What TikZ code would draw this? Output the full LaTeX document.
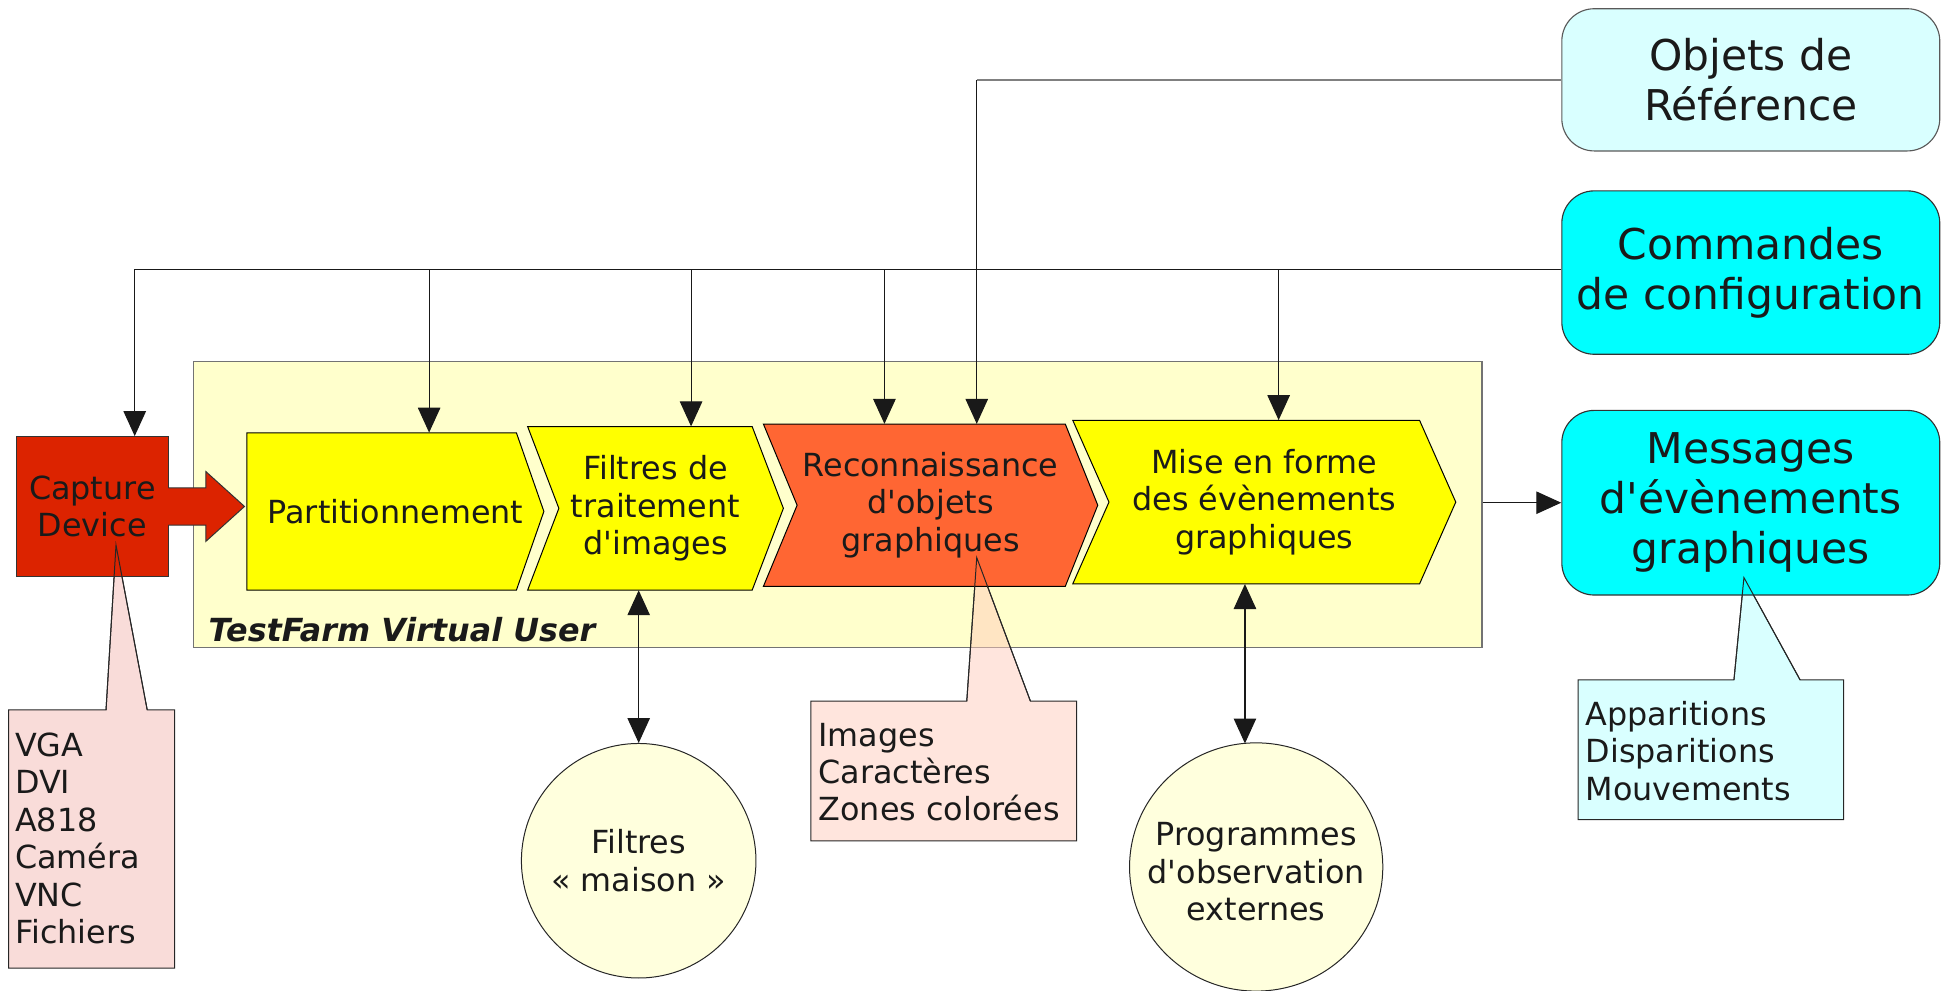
\documentclass[tikz,border=0pt]{standalone}
\usepackage{fontspec}
\setmainfont{DejaVu Sans}[Ligatures=TeXOff]
\usetikzlibrary{arrows.meta,shapes.geometric}
\definecolor{txtc}{HTML}{1A1A1A}
\definecolor{capred}{HTML}{DC2300}
\definecolor{chevY}{HTML}{FFFF00}
\definecolor{recoOr}{HTML}{FF6633}
\definecolor{tfbg}{HTML}{FFFFCC}
\definecolor{circc}{HTML}{FFFFDD}
\definecolor{lcyan}{HTML}{D9FFFF}
\definecolor{fcyan}{HTML}{00FFFF}
\definecolor{pinkc}{HTML}{F9DCD9}
\definecolor{peachc}{HTML}{FFCCBB}
\begin{document}
\begin{tikzpicture}[x=1pt,y=-1pt,
  txt/.style={text=txtc, font=\fontsize{25.5}{30}\selectfont, align=center, inner sep=0pt},
  bigtxt/.style={text=txtc, font=\fontsize{34}{40}\selectfont, align=center, inner sep=0pt},
  rbox/.style={draw=black!80, rounded corners=26pt, minimum width=303pt, line width=0.9pt},
  shp/.style={draw=black, line width=0.8pt},
  ln/.style={line width=0.9pt, draw=black!90},
  conn/.style={ln, -{Triangle[length=20pt,width=18pt]}},
  dconn/.style={ln, {Triangle[length=20pt,width=18pt]}-{Triangle[length=20pt,width=18pt]}},
  note/.style={text=txtc, font=\fontsize{25.5}{30}\selectfont, align=left, inner sep=0pt, anchor=west}
]
\useasboundingbox (0,0) rectangle (1560,794.4);

% TestFarm container
\node[draw=black!55, fill=tfbg, line width=1pt, minimum width=1033pt, minimum height=229pt, inner sep=0pt] (tf) at (671.5,404.5) {};
\node[txt, font=\fontsize{25.5}{30}\selectfont\bfseries\itshape, anchor=west] (tfl) at (167,505) {TestFarm Virtual User};

% callout bodies
\filldraw[draw=black!85, line width=0.8pt, fill=pinkc] (7,569) -- (85,569) -- (93,437) -- (118,569) -- (140,569) -- (140,776) -- (7,776) -- cycle;
\filldraw[draw=black!85, line width=0.8pt, fill=peachc, fill opacity=0.5] (650,562) -- (775,562) -- (783,447) -- (826,562) -- (863,562) -- (863,674) -- (650,674) -- cycle;
\filldraw[draw=black!85, line width=0.8pt, fill=lcyan] (1265,545) -- (1390,545) -- (1398,463) -- (1443,545) -- (1478,545) -- (1478,657) -- (1265,657) -- cycle;

% chevrons
\filldraw[shp, fill=chevY] (198,347) -- (414,347) -- (436,410) -- (414,473) -- (198,473) -- cycle;
\filldraw[shp, fill=chevY] (423,342) -- (603,342) -- (628,407.5) -- (603,473) -- (423,473) -- (448,407.5) -- cycle;
\filldraw[shp, fill=recoOr] (612,340) -- (854,340) -- (880,405) -- (854,470) -- (612,470) -- (639,405) -- cycle;
\filldraw[shp, fill=chevY] (860,337) -- (1138,337) -- (1167,402.5) -- (1138,468) -- (860,468) -- (889,402.5) -- cycle;

\node[txt, minimum width=238pt, minimum height=126pt] (part) at (317,410) {Partitionnement};
\node[txt, minimum width=205pt, minimum height=131pt] (filt) at (525.5,407.5) {Filtres de\\traitement\\d'images};
\node[txt, minimum width=268pt, minimum height=130pt] (reco) at (746,405) {Reconnaissance\\d'objets\\graphiques};
\node[txt, minimum width=307pt, minimum height=131pt] (mise) at (1013.5,402.5) {Mise en forme\\des évènements\\graphiques};

% capture device and block arrow
\node[txt, draw=black!80, line width=0.8pt, fill=capred, minimum width=122pt, minimum height=112pt] (cap) at (74,406) {Capture\\Device};
\fill[capred] (134,391) -- (165,391) -- (165,378) -- (196,406) -- (165,434) -- (165,421) -- (134,421) -- cycle;
\draw[line width=0.8pt, draw=black!80] (135,391) -- (165,391) -- (165,378) -- (196,406) -- (165,434) -- (165,421) -- (135,421);

% right boxes
\node[rbox, bigtxt, fill=lcyan, draw=black!65, minimum height=114pt] (obj) at (1403.5,64) {Objets de\\Référence};
\node[rbox, bigtxt, fill=fcyan, minimum height=131pt] (cmd) at (1403.5,218.5) {Commandes\\de configuration};
\node[rbox, bigtxt, fill=fcyan, minimum height=148pt] (msg) at (1403.5,403) {Messages\\d'évènements\\graphiques};

% circles
\node[circle, draw=black!85, line width=0.8pt, fill=circc, minimum size=188pt, inner sep=0pt] (fm) at (512,690) {};
\node[txt] (fmt) at (fm.center) {Filtres\\« maison »};
\node[ellipse, draw=black!85, line width=0.8pt, fill=circc, minimum width=203pt, minimum height=199pt, inner sep=0pt] (prog) at (1007,695) {};
\node[txt] (progt) at ([yshift=-4pt]prog.center) {Programmes\\d'observation\\externes};

% callout tails on top
\draw[line width=0.8pt, draw=black!85] (85,569) -- (93,437) -- (118,569);
\draw[line width=0.8pt, draw=black!85] (775,562) -- (783,447) -- (826,562);
\draw[line width=0.8pt, draw=black!85] (1390,545) -- (1398,463) -- (1443,545);

% callout texts
\node[note] (n1) at (12,672) {VGA\\DVI\\A818\\Caméra\\VNC\\Fichiers};
\node[note] (n2) at (656,619) {Images\\Caractères\\Zones colorées};
\node[note] (n3) at (1271,602) {Apparitions\\Disparitions\\Mouvements};

% configuration bus
\coordinate (d0) at (108,216);
\coordinate (d1) at (344,216);
\coordinate (d2) at (554,216);
\coordinate (d3) at (709,216);
\coordinate (d4) at (1025,216);
\draw[ln] (cmd.west |- d0) -- (d0);
\draw[conn] (d0) -- (d0 |- cap.north);
\draw[conn] (d1) -- (d1 |- part.north);
\draw[conn] (d2) -- (d2 |- filt.north);
\draw[conn] (d3) -- (d3 |- reco.north);
\draw[conn] (d4) -- (d4 |- mise.north);

% reference objects
\coordinate (o1) at (783,64);
\draw[line width=1.2pt, draw=black!50] (obj.west) -- (o1);
\draw[conn] (o1) -- (o1 |- reco.north);

% outputs
\draw[conn] (tf.east |- msg.west) -- (msg.west);
\coordinate (pt) at (998,596);
\draw[dconn] (fm.north |- filt.south) -- (fm.north);
\draw[dconn] (pt |- mise.south) -- (pt);
\end{tikzpicture}
\end{document}
